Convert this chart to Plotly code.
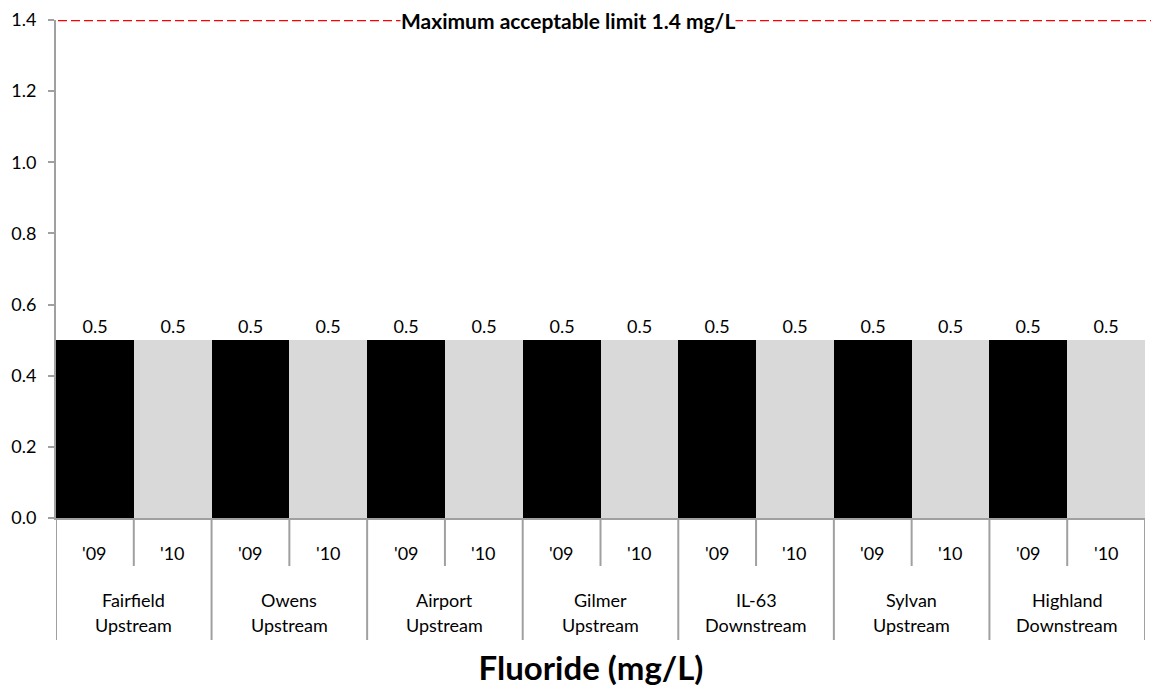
import plotly.graph_objects as go

sites = ["Fairfield<br>Upstream", "Owens<br>Upstream", "Airport<br>Upstream", "Gilmer<br>Upstream",
         "IL-63<br>Downstream", "Sylvan<br>Upstream", "Highland<br>Downstream"]
years = ["'09", "'10"]
values_09 = [0.5, 0.5, 0.5, 0.5, 0.5, 0.5, 0.5]
values_10 = [0.5, 0.5, 0.5, 0.5, 0.5, 0.5, 0.5]
limit = 1.4
y_ticks = [0.0, 0.2, 0.4, 0.6, 0.8, 1.0, 1.2, 1.4]

FONT = "Lato, 'Open Sans', sans-serif"
GRAY = "#a0a0a0"
W, H = 1159, 698
OFF = 8  # page body margin offset
ML, MT = 56 - OFF, 20 - OFF
MR = W - (1145 - OFF)
MB = H - (518 - OFF)
PLOT_H = H - MT - MB
PLOT_W = W - ML - MR

xs, vals, colors, labels_year = [], [], [], []
for i in range(len(sites)):
    for j, (v, c) in enumerate(((values_09[i], "#000000"), (values_10[i], "#d9d9d9"))):
        xs.append(2 * i + j)
        vals.append(v)
        colors.append(c)
        labels_year.append(years[j])

fig = go.Figure()
fig.add_trace(go.Bar(
    x=xs, y=vals, width=1,
    marker=dict(color=colors, line=dict(width=0)),
    text=[f"{v:.1f}" for v in vals], textposition="outside",
    textfont=dict(size=18, color="#000000", family=FONT),
    cliponaxis=False, showlegend=False,
))

# limit line
fig.add_shape(type="line", xref="paper", yref="y", x0=2 / PLOT_W, x1=(1157 - 56) / PLOT_W,
              y0=limit, y1=limit,
              line=dict(color="#ff0000", width=2.7, dash="9px,4px"))
fig.add_annotation(xref="paper", yref="y", x=(568 - 56) / PLOT_W, y=limit,
                   text="<b>Maximum acceptable limit 1.4 mg/L</b>",
                   showarrow=False, bgcolor="white", font=dict(size=21, color="#000000", family=FONT),
                   borderpad=0)

# year labels
for x, t in zip(xs, labels_year):
    fig.add_annotation(xref="x", yref="paper", x=x, y=-35 / PLOT_H, text=t, showarrow=False,
                       yanchor="middle", font=dict(size=18, color="#000000", family=FONT))
# year separators (within a site)
for i in range(len(sites)):
    fig.add_shape(type="line", xref="x", yref="paper", x0=2 * i + 0.5, x1=2 * i + 0.5,
                  y0=0, y1=-48 / PLOT_H, line=dict(color=GRAY, width=2))
# site labels and dividers
for i, s in enumerate(sites):
    top, bottom = s.split("<br>")
    fig.add_annotation(xref="x", yref="paper", x=2 * i + 0.5, y=-82 / PLOT_H, text=top, showarrow=False,
                       yanchor="middle", font=dict(size=18, color="#000000", family=FONT))
    fig.add_annotation(xref="x", yref="paper", x=2 * i + 0.5, y=-107 / PLOT_H, text=bottom, showarrow=False,
                       yanchor="middle", font=dict(size=18, color="#000000", family=FONT))
for k in range(len(sites) + 1):
    fig.add_shape(type="line", xref="x", yref="paper", x0=2 * k - 0.5, x1=2 * k - 0.5,
                  y0=0, y1=-122 / PLOT_H, line=dict(color=GRAY, width=2))

fig.update_layout(
    width=W, height=H,
    margin=dict(l=ML, r=MR, t=MT, b=MB, autoexpand=False),
    paper_bgcolor="white", plot_bgcolor="white",
    bargap=0,
    font=dict(family=FONT, size=18, color="#000000"),
    title=dict(text="<b>Fluoride (mg/L)</b>", x=(591 - OFF) / W, xanchor="center",
               y=1 - (668 - OFF) / H, yanchor="middle",
               font=dict(size=33, family=FONT, color="#000000")),
)
fig.update_yaxes(range=[0, 1.4], tickvals=y_ticks, ticktext=[f"{t:.1f}" for t in y_ticks],
                 showgrid=False, showline=True, linecolor=GRAY, linewidth=2,
                 ticks="outside", ticklen=6, tickcolor=GRAY, tickwidth=1.5, zeroline=False,
                 ticklabelstandoff=8,
                 automargin=False, tickfont=dict(size=18, family=FONT))
fig.update_xaxes(range=[-0.5, len(xs) - 0.5], showgrid=False, showline=True, linecolor=GRAY, linewidth=2,
                 showticklabels=False, ticks="", zeroline=False, automargin=False)

fig.write_html("out.html")
